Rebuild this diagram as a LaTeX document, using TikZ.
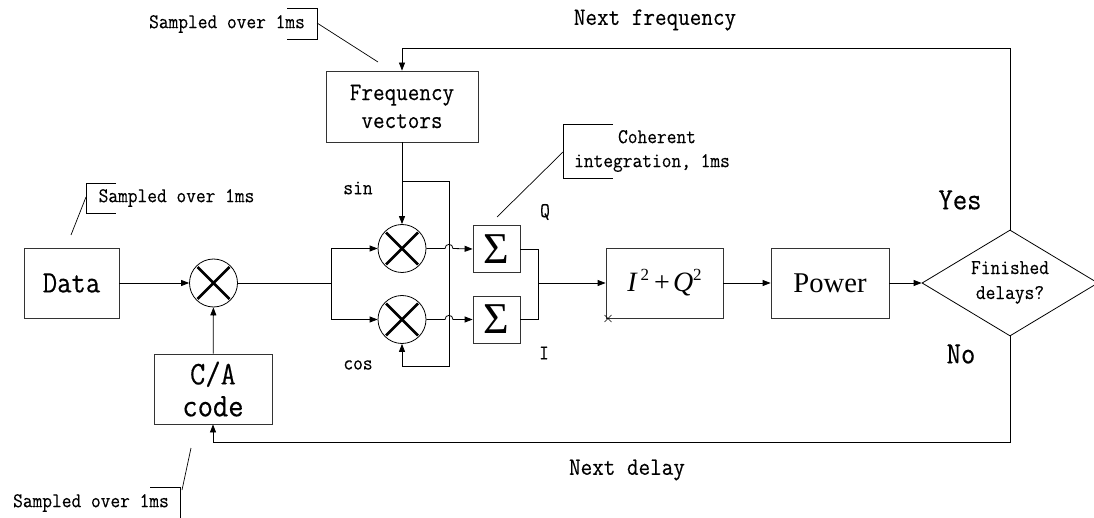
\documentclass[tikz,border=0pt]{standalone}
\usepackage{fontspec}
\setmainfont{Latin Modern Mono}[FakeStretch=0.9,FakeBold=0.3]
\newfontfamily\tnr{Liberation Serif}
\usetikzlibrary{arrows.meta,shapes.geometric}
\tikzset{
  box/.style={draw=black!80, line width=0.8pt, rectangle, inner sep=0pt},
  mult/.style={draw=black, line width=0.8pt, circle, minimum size=48pt, inner sep=0pt},
  wire/.style={draw=black, line width=0.8pt},
  arr/.style={wire, -{Triangle[length=8pt,width=6pt]}},
  xline/.style={line width=2.8pt},
  small/.style={font=\fontsize{21}{24}\selectfont, inner sep=0pt, align=center},
  mid/.style={font=\fontsize{25}{28}\selectfont, inner sep=0pt, align=center},
  big/.style={font=\fontsize{31}{32}\selectfont, inner sep=0pt, align=center},
}
\begin{document}
\begin{tikzpicture}[x=1pt,y=-1pt]
\useasboundingbox (0,0) rectangle (1094,518);

% blocks
\node[box, minimum width=95pt, minimum height=70pt, big] (data) at (71.5,283) {Data};
\node[mult] (m1) at (213.5,283) {};
\node[box, minimum width=118pt, minimum height=70pt, font=\fontsize{33}{32}\selectfont, align=center] (ca) at (213,389) {C/A\\code};
\node[box, minimum width=152pt, minimum height=71pt, font=\fontsize{25}{28}\selectfont, align=center] (fv) at (402,106.5) {Frequency\\vectors};
\node[mult] (ms) at (402,248.5) {};
\node[mult] (mc) at (402,319.5) {};
\node[box, minimum size=47pt, font=\tnr\fontsize{44}{44}\selectfont] (sq) at (496.5,249) {Σ};
\node[box, minimum size=47pt, font=\tnr\fontsize{44}{44}\selectfont] (si) at (496.5,319.5) {Σ};
\node[box, minimum width=117pt, minimum height=70pt, font=\tnr\fontsize{28}{28}\selectfont] (iq) at (664.5,283)
  {\textit{I}\hspace{3pt}\raisebox{11pt}{\fontsize{17}{17}\selectfont 2}\hspace{5pt}+\hspace{3pt}\textit{Q}\raisebox{11pt}{\fontsize{17}{17}\selectfont 2}};
\node[box, minimum width=118pt, minimum height=70pt, font=\tnr\fontsize{28.6}{30}\selectfont] (pw) at (830,283) {Power};
\node[draw=black, line width=0.8pt, diamond, aspect=1.66, minimum width=176pt, minimum height=106pt, inner sep=0pt, small] (dm) at (1010,283) {};
\node[small, font=\fontsize{21}{25}\selectfont] (dmt) at (1010,282.5) {Finished\\delays?};

% crosses in multipliers
\foreach \n in {m1,ms,mc}{
  \draw[xline] ([shift={(-16pt,-16pt)}]\n.center) -- ([shift={(16pt,16pt)}]\n.center)
               ([shift={(-16pt,16pt)}]\n.center) -- ([shift={(16pt,-16pt)}]\n.center);
}

% helper coordinates
\coordinate (sp) at (331.5,283);
\coordinate (tap) at (402,181);
\coordinate (l1) at (449,181);
\coordinate (l2) at (449,366);
\coordinate (l3) at (402,366);
\coordinate (jn) at (538,283);
\coordinate (jq) at (538,249);
\coordinate (ji) at (538,319.5);
\coordinate (tr) at (1010,48);
\coordinate (tl) at (402,48);
\coordinate (br) at (1010,442);
\coordinate (bl) at (213,442);

% connectors
\draw[arr] (data) -- (m1);
\draw[arr] (ca) -- (m1);
\draw[wire] (m1) -- (sp);
\draw[arr] (sp) |- (ms.west);
\draw[arr] (sp) |- (mc.west);
\draw[arr] (fv) -- (ms);
\draw[arr] (tap) -- (l1) -- (l2) -- (l3) -- (mc.south);
\draw[arr] (ms.east) -- (445,248.5) .. controls (445,243) and (453,243) .. (453,248.5) -- (sq.west);
\draw[arr] (mc.east) -- (445,319.5) .. controls (445,314) and (453,314) .. (453,319.5) -- (si.west);
\draw[wire] (sq.east) -- (jq) -- (ji) -- (si.east);
\draw[arr] (jn) -- (iq.west);
\draw[arr] (iq) -- (pw);
\draw[arr] (pw) -- (dm);
\draw[arr] (dm.north) -- (tr) -- (tl) -- (fv.north);
\draw[arr] (dm.south) -- (br) -- (bl) -- (ca.south);

% small mark at I^2+Q^2 corner
\coordinate (mk) at (608,318.5);
\draw[line width=0.6pt] ([shift={(-3.5pt,-3.5pt)}]mk) -- ([shift={(3.5pt,3.5pt)}]mk)
                        ([shift={(-3.5pt,3.5pt)}]mk) -- ([shift={(3.5pt,-3.5pt)}]mk);

% callouts
\node[small] (t1) at (227,24) {Sampled over 1ms};
\draw[wire, line width=0.7pt] (287,8) -- (317,8) -- (317,39) -- (287,39);
\draw[wire, line width=0.7pt] (317,23) -- (378,62);

\node[small] (t2) at (176.5,198) {Sampled over 1ms};
\draw[wire, line width=0.7pt] (116,183) -- (86,183) -- (86,213) -- (116,213);
\draw[wire, line width=0.7pt] (86,197) -- (71,235);

\node[small] (t3) at (91,503) {Sampled over 1ms};
\draw[wire, line width=0.7pt] (150,487) -- (180,487) -- (180,530);
\draw[wire, line width=0.7pt] (182,490) -- (191,448);

\node[small] (t4) at (652,151) {\hspace*{10pt}Coherent\\integration, 1ms};
\draw[wire, line width=0.7pt] (613,124) -- (563,124) -- (563,178) -- (613,178);
\draw[wire, line width=0.7pt] (563,152) -- (497,217);

% labels
\node[small] (sin) at (358,188) {sin};
\node[small] (cos) at (358,365) {cos};
\node[small] (q) at (545,212) {Q};
\node[small] (i) at (544,353) {I};
\node[big] (yes) at (960,200) {Yes};
\node[big] (no) at (961,354) {No};
\node[mid] (nf) at (655,20) {Next frequency};
\node[mid] (nd) at (627,470) {Next delay};
\end{tikzpicture}
\end{document}
